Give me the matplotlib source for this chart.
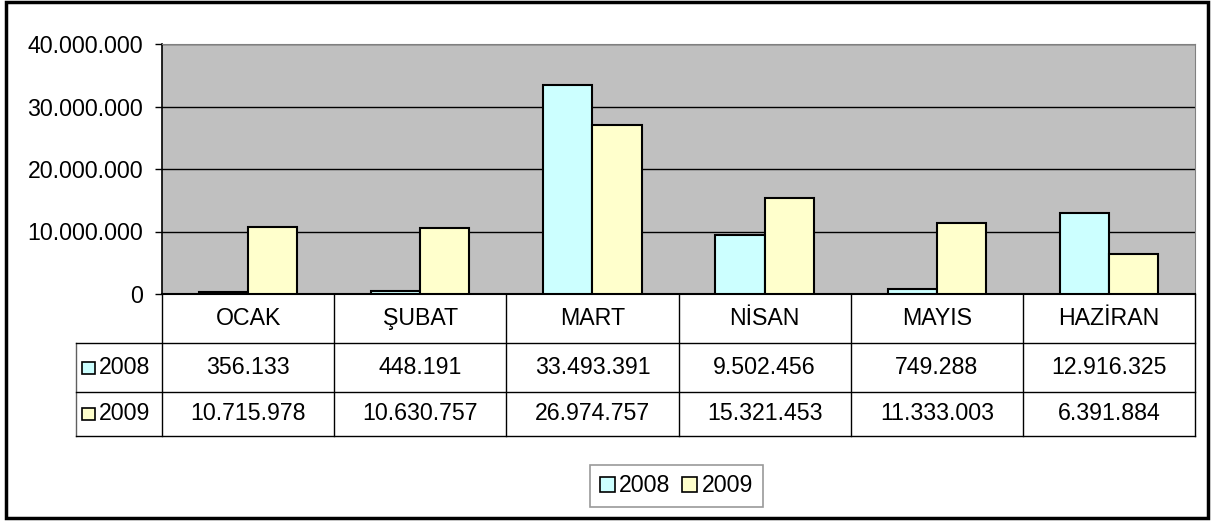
import matplotlib
matplotlib.use("Agg")
import matplotlib.pyplot as plt
from matplotlib.patches import Rectangle, Patch
from matplotlib.ticker import FuncFormatter

plt.rcParams['font.family'] = ['Liberation Sans', 'DejaVu Sans']

months = ["OCAK", "ŞUBAT", "MART", "NİSAN", "MAYIS", "HAZİRAN"]
series_names = ["2008", "2009"]
v2008 = [356133, 448191, 33493391, 9502456, 749288, 12916325]
v2009 = [10715978, 10630757, 26974757, 15321453, 11333003, 6391884]
colors = ["#CCFFFF", "#FFFFCC"]

W, H = 1213, 522


def dots(v):
    return f"{int(v):,}".replace(",", ".")


def box(x0, y0, x1, y1):
    # pixel box (top-left origin) -> figure fraction rect
    return [x0 / W, 1 - y1 / H, (x1 - x0) / W, (y1 - y0) / H]


fig = plt.figure(figsize=(W / 100, H / 100), dpi=100)
fs = 16.7

# plot area
ax = fig.add_axes(box(162, 44, 1195, 294))
ax.set_facecolor("#C0C0C0")
x = list(range(len(months)))
bw = 0.286
ax.bar([i - bw / 2 for i in x], v2008, bw, color=colors[0], edgecolor="black", linewidth=1.5, zorder=3)
ax.bar([i + bw / 2 for i in x], v2009, bw, color=colors[1], edgecolor="black", linewidth=1.5, zorder=3)
ax.set_xlim(-0.5, 5.5)
ax.set_ylim(0, 40000000)
ax.set_yticks([0, 10000000, 20000000, 30000000, 40000000])
ax.yaxis.set_major_formatter(FuncFormatter(lambda v, p: dots(v)))
ax.grid(axis="y", color="black", linewidth=1.0, zorder=1)
ax.set_xticks([])
ax.tick_params(axis="y", labelsize=fs, length=5, width=1, direction="out", pad=8.5)
for s in ["top", "right"]:
    ax.spines[s].set_color("#808080")
ax.spines["left"].set_color("black")
ax.spines["bottom"].set_color("black")
ax.spines["left"].set_linewidth(1.2)
ax.spines["bottom"].set_linewidth(1.5)

# data table
tx = fig.add_axes(box(76, 294, 1195, 436))
tx.set_xlim(-1.0, 5.5)
tx.set_ylim(436, 294)
tx.axis("off")
rows = [294, 343, 392, 436]
for i, m in enumerate(months):
    tx.text(i, (rows[0] + rows[1]) / 2, m, ha="center", va="center", fontsize=fs)
    tx.text(i, (rows[1] + rows[2]) / 2, dots(v2008[i]), ha="center", va="center", fontsize=fs)
    tx.text(i, (rows[2] + rows[3]) / 2, dots(v2009[i]), ha="center", va="center", fontsize=fs)
lw = 1.0
# vertical lines
for k in range(7):
    tx.plot([k - 0.5, k - 0.5], [rows[0], rows[3]], color="black", lw=lw, clip_on=False)
tx.plot([-1.0, -1.0], [rows[1], rows[3]], color="#606060", lw=lw, clip_on=False)
# horizontal lines
for r in rows[1:]:
    tx.plot([-1.0, 5.5], [r, r], color="black", lw=lw, clip_on=False)
# row headers with keys
for r, name in enumerate(series_names):
    yc = (rows[r + 1] + rows[r + 2]) / 2
    tx.add_patch(Rectangle((-0.965, yc - 6), 0.075, 12, facecolor=colors[r],
                           edgecolor="black", lw=1.2, clip_on=False))
    tx.text(-0.87, yc, name, ha="left", va="center", fontsize=fs)

# legend
handles = [Patch(facecolor=colors[i], edgecolor="black", linewidth=1.2, label=series_names[i])
           for i in range(2)]
leg = fig.legend(handles=handles, loc="center", bbox_to_anchor=(676.5 / W, 1 - 486 / H),
                 ncol=2, fontsize=fs, frameon=True, fancybox=False, handlelength=0.65,
                 handleheight=0.65, handletextpad=0.2, columnspacing=0.5, borderpad=0.4)
leg.get_frame().set_edgecolor("#808080")
leg.get_frame().set_linewidth(1.2)

# outer chart border
fig.add_artist(Rectangle((6 / W, 1 - 518 / H), 1202 / W, 516 / H, transform=fig.transFigure,
                         fill=False, edgecolor="black", linewidth=2.5))

fig.savefig("out.png", dpi=100)
